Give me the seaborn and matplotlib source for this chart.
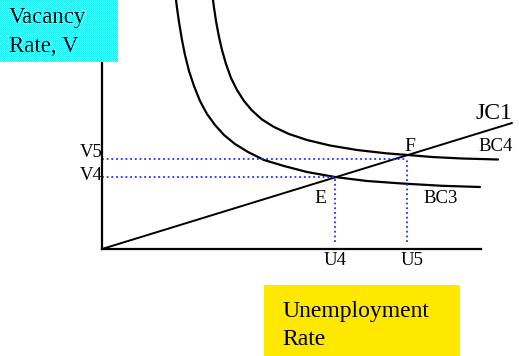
import numpy as np
import pandas as pd
import matplotlib
matplotlib.use("Agg")
import matplotlib.pyplot as plt
from matplotlib.patches import Rectangle
import seaborn as sns

# ---------------- data ----------------
bc3_u = [7.3, 7.4, 7.5, 7.7, 8.0, 8.3, 8.7, 9.2, 9.8, 10.5, 11.3, 12.2, 13.3, 14.6,
         16.2, 18.2, 20.5, 23.3, 26.5, 30.0, 34.0, 37.8]
bc3_v = [25.8, 24.9, 24.1, 22.7, 20.9, 19.4, 17.8, 16.3, 14.8, 13.5, 12.4, 11.4,
         10.5, 9.7, 8.9, 8.3, 7.7, 7.2, 6.8, 6.55, 6.32, 6.2]
bc4_u = [11.0, 11.1, 11.2, 11.4, 11.7, 12.0, 12.4, 12.9, 13.5, 14.2, 15.0, 16.0,
         17.2, 18.7, 20.5, 22.8, 25.5, 28.5, 30.6, 33.0, 36.0, 39.6]
bc4_v = [25.7, 24.9, 24.15, 22.8, 21.2, 19.9, 18.5, 17.1, 15.9, 14.8, 13.85, 12.95,
         12.2, 11.5, 10.9, 10.35, 9.9, 9.56, 9.4, 9.2, 9.05, 8.95]
jc_u = [0.0, 41.0]
jc_v = [0.0, 12.6]
u4, v4 = 23.3, 7.2
u5, v5 = 30.5, 9.0
drop_floor = 0.7
x_axis_end = 37.9

y_title = ["Vacancy", "Rate, V"]
x_title = ["Unemployment", "Rate"]

# ---------------- figure ----------------
W, H = 519, 356
sns.set_style("white")
plt.rcParams["font.family"] = ["Liberation Serif", "DejaVu Serif"]
fig = plt.figure(figsize=(W / 100, H / 100), dpi=100)

# checkered cyan box behind y title
ch, cw = 62, 118
yy, xx = np.mgrid[0:ch, 0:cw]
chk = ((yy + xx) % 2 == 0)
img = np.ones((ch, cw, 3))
img[chk] = [0.0, 1.0, 1.0]
fig.figimage(img, xo=0, yo=H - ch, origin="upper", zorder=0)

# yellow box behind x title
fig.patches.append(Rectangle((264 / W, 0), (460 - 264) / W, (H - 285) / H,
                             transform=fig.transFigure, facecolor="#FFE800",
                             edgecolor="none", zorder=0))

ax = fig.add_axes([102 / W, 107 / H, (W - 102) / W, 249 / H])
ax.patch.set_alpha(0)
ax.set_xlim(0, 41.7)
ax.set_ylim(0, 24.9)

line_kw = dict(ax=ax, color="black", sort=False, estimator=None, legend=False)
sns.lineplot(x=bc3_u, y=bc3_v, lw=1.6, **line_kw)
sns.lineplot(x=bc4_u, y=bc4_v, lw=1.6, **line_kw)
sns.lineplot(x=jc_u, y=jc_v, lw=1.4, clip_on=False, **line_kw)

dot_kw = dict(ax=ax, color="#2a2aff", sort=False, estimator=None, legend=False,
              lw=1.3, linestyle=(0, (1, 1.6)))
sns.lineplot(x=[0, u4], y=[v4, v4], **dot_kw)
sns.lineplot(x=[0, u5], y=[v5, v5], **dot_kw)
sns.lineplot(x=[u4, u4], y=[drop_floor, v4], **dot_kw)
sns.lineplot(x=[u5, u5], y=[drop_floor, v5], **dot_kw)

for s in ["top", "right"]:
    ax.spines[s].set_visible(False)
for s in ["left", "bottom"]:
    ax.spines[s].set_linewidth(1.6)
    ax.spines[s].set_color("black")
ax.spines["bottom"].set_bounds(0, x_axis_end)
ax.set_xticks([])
ax.set_yticks([])
ax.set_xlabel("")
ax.set_ylabel("")


def ftext(x, y, s, size):
    fig.text(x / W, 1 - y / H, s, fontsize=size, va="baseline", ha="left",
             color="black")


ftext(9, 23, y_title[0], 16.5)
ftext(9, 52, y_title[1], 16.5)
ftext(282, 317, x_title[0], 17)
ftext(282, 345, x_title[1], 17)

ftext(80, 157, "V5", 13.5)
ftext(80, 180, "V4", 13.5)
ftext(324, 265, "U4", 13.5)
ftext(401, 265, "U5", 13.5)
ftext(314, 203, "E", 14)
ftext(404, 151, "F", 14)
ftext(478, 151, "BC4", 13.5)
ftext(423, 203, "BC3", 13.5)
ftext(476, 119, "JC1", 17)

fig.savefig("out.png", dpi=100)
